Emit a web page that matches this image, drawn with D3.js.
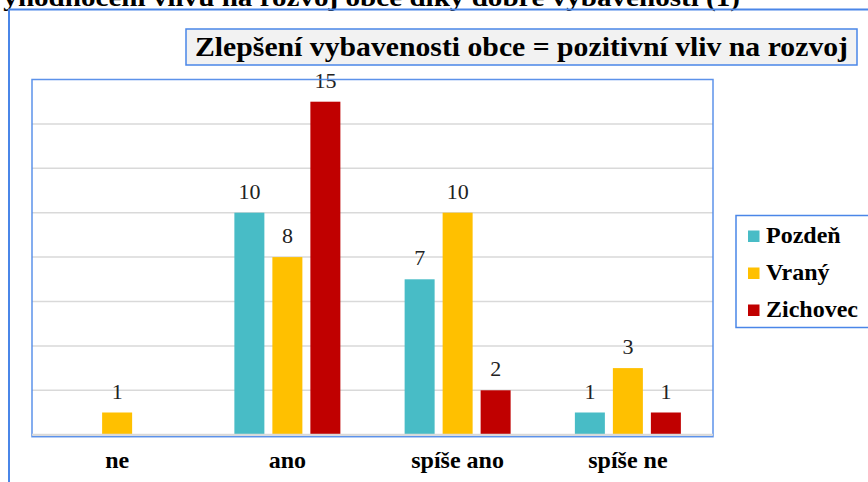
<!DOCTYPE html>
<html>
<head>
<meta charset="utf-8">
<script src="https://cdn.jsdelivr.net/npm/d3@7"></script>
<style>
  html, body { margin: 0; padding: 0; background: #fff; }
  svg { display: block; }
</style>
</head>
<body>
<div id="chart"></div>
<script>
const categories = ['ne', 'ano', 'spíše ano', 'spíše ne']
const seriesNames = ['Pozdeň', 'Vraný', 'Zichovec']
const seriesColors = ['#48BCC6', '#FFC000', '#C00000']
const pozden = [0, 10, 7, 1]
const vrany = [1, 8, 10, 3]
const zichovec = [0, 15, 2, 1]
const gridTicks = [0, 2, 4, 6, 8, 10, 12, 14]

const pageTitle = 'Vyhodnocení vlivu na rozvoj obce díky dobré vybavenosti (1)'
const chartTitle = 'Zlepšení vybavenosti obce = pozitivní vliv na rozvoj'

const W = 868
const H = 482
const blue = '#4A86E8'
const serif = '"Liberation Serif", "Times New Roman", Times, serif'

const plot = { left: 32, right: 713, top: 79.5, bottom: 434.7 }

const svg = d3.select('#chart').append('svg')
  .attr('width', W).attr('height', H)
  .attr('font-family', serif)

// page heading, mostly cut off at the top
svg.append('text')
  .attr('x', -15).attr('y', 6)
  .attr('textLength', 755).attr('lengthAdjust', 'spacingAndGlyphs')
  .style('font-size', '26px').style('font-weight', 'bold')
  .text(pageTitle)

// outer frame
svg.append('path')
  .attr('d', `M9,${H} V9.5 H${W}`)
  .attr('fill', 'none').attr('stroke', blue).attr('stroke-width', 2)

// chart title box
svg.append('rect')
  .attr('x', 186).attr('y', 29).attr('width', 671).attr('height', 36)
  .attr('fill', '#F2F2F2').attr('stroke', blue).attr('stroke-width', 1.5)
svg.append('text')
  .attr('x', 195).attr('y', 56)
  .attr('textLength', 653).attr('lengthAdjust', 'spacingAndGlyphs')
  .style('font-size', '27px').style('font-weight', 'bold')
  .text(chartTitle)

const data = categories.map((c, i) => ({
  cat: c,
  values: [pozden[i], vrany[i], zichovec[i]]
}))

const x0 = d3.scaleBand().domain(categories).range([plot.left, plot.right])
const x1 = d3.scaleBand().domain(seriesNames).range([-53, 53]).paddingInner(8 / 38)
const y = d3.scaleLinear().domain([0, 16]).range([plot.bottom, plot.top])

// gridlines
svg.append('g')
  .selectAll('line')
  .data(gridTicks)
  .join('line')
  .attr('x1', plot.left).attr('x2', plot.right)
  .attr('y1', (d) => y(d)).attr('y2', (d) => y(d))
  .attr('stroke', '#D9D9D9').attr('stroke-width', 1.5)

// bars
const groups = svg.append('g')
  .selectAll('g')
  .data(data)
  .join('g')
  .attr('transform', (d) => `translate(${x0(d.cat) + x0.bandwidth() / 2},0)`)

const cells = groups.selectAll('g')
  .data((d) => d.values.map((v, i) => ({ name: seriesNames[i], value: v, color: seriesColors[i] })))
  .join('g')

cells.filter((d) => d.value > 0)
  .append('rect')
  .attr('x', (d) => x1(d.name))
  .attr('width', x1.bandwidth())
  .attr('y', (d) => y(d.value))
  .attr('height', (d) => y(0) - y(d.value))
  .attr('fill', (d) => d.color)

cells.filter((d) => d.value > 0)
  .append('text')
  .attr('x', (d) => x1(d.name) + x1.bandwidth() / 2)
  .attr('y', (d) => y(d.value) - 14)
  .attr('text-anchor', 'middle')
  .style('font-size', '22px')
  .attr('fill', '#222')
  .text((d) => d.value)

// plot border
svg.append('rect')
  .attr('x', plot.left).attr('y', plot.top)
  .attr('width', plot.right - plot.left).attr('height', plot.bottom + 2 - plot.top)
  .attr('fill', 'none').attr('stroke', blue).attr('stroke-width', 1.5)
  .attr('stroke-opacity', 0.9)
// baseline in grey over the border
svg.append('line')
  .attr('x1', plot.left).attr('x2', plot.right)
  .attr('y1', y(0)).attr('y2', y(0))
  .attr('stroke', '#D9D9D9').attr('stroke-width', 2)

// category labels
svg.append('g')
  .selectAll('text')
  .data(categories)
  .join('text')
  .attr('x', (d) => x0(d) + x0.bandwidth() / 2)
  .attr('y', 468)
  .attr('text-anchor', 'middle')
  .style('font-size', '24px').style('font-weight', 'bold')
  .text((d) => d)

// legend
svg.append('rect')
  .attr('x', 736).attr('y', 215.5).attr('width', 140).attr('height', 112)
  .attr('fill', '#fff').attr('stroke', blue).attr('stroke-width', 1.5)

const legend = svg.append('g')
  .selectAll('g')
  .data(seriesNames)
  .join('g')
  .attr('transform', (d, i) => `translate(748,${242.5 + i * 37})`)
legend.append('rect')
  .attr('x', 0).attr('y', -12).attr('width', 11.5).attr('height', 11.5)
  .attr('fill', (d, i) => seriesColors[i])
legend.append('text')
  .attr('x', 18).attr('y', 0)
  .style('font-size', '24px').style('font-weight', 'bold')
  .text((d) => d)
</script>
</body>
</html>
